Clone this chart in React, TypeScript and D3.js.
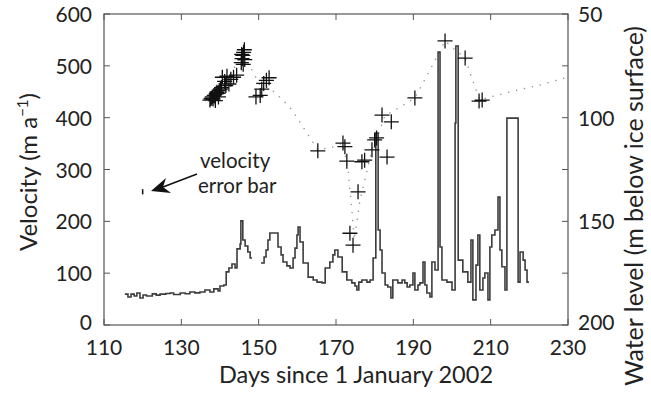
import React from "react";
import * as d3 from "d3";

// ---- Data ----
const xTicks = [110, 130, 150, 170, 190, 210, 230];
const velTicks = [0, 100, 200, 300, 400, 500, 600];
const wlTicks = [50, 75, 100, 125, 150, 175, 200];
const wlLabels = [50, 100, 150, 200];

// Water level (m below ice surface), stair series, two segments
const wlDays1 = [115.4, 116.2, 117.0, 117.8, 118.5, 119.3, 120.1, 121.0, 122.5, 123.5, 124.5, 126.0, 127.1, 128.0, 129.7, 131.0, 132.2, 133.5, 134.8, 136.1, 137.4, 138.4, 139.5, 140.0, 141.0, 141.6, 142.3, 143.1, 143.9, 144.4, 145.2, 145.4, 145.9, 146.5, 147.2, 147.8, 148.3];
const wlDepth1 = [185.1, 186.5, 185.1, 186.0, 184.6, 187.0, 185.5, 186.0, 185.0, 185.6, 185.1, 184.8, 184.6, 185.3, 184.6, 184.9, 184.1, 184.5, 184.1, 183.1, 184.1, 182.6, 183.6, 181.2, 180.7, 174.4, 172.5, 170.6, 172.5, 163.3, 160.9, 149.8, 159.0, 161.9, 164.8, 167.7, 167.7];

const wlDays2 = [150.6, 151.4, 151.9, 152.4, 152.9, 155.0, 155.8, 156.3, 157.3, 158.1, 158.9, 159.4, 159.9, 160.2, 160.7, 161.5, 162.8, 164.1, 165.1, 166.4, 167.2, 168.4, 169.2, 169.7, 170.5, 171.6, 172.8, 174.1, 174.9, 175.4, 175.9, 176.7, 178.0, 178.8, 179.6, 180.3, 180.9, 181.4, 181.9, 182.7, 183.4, 184.2, 184.7, 186.0, 187.1, 187.8, 188.4, 189.1, 189.9, 190.4, 191.2, 191.7, 192.5, 193.0, 193.5, 194.3, 194.8, 195.6, 196.4, 196.9, 197.4, 198.7, 200.0, 200.8, 201.0, 201.6, 202.8, 204.1, 204.9, 205.4, 206.2, 206.7, 207.2, 208.0, 208.5, 209.3, 209.8, 210.3, 211.1, 211.9, 212.4, 212.9, 213.7, 214.2, 217.1, 217.6, 218.4, 218.9, 219.4, 219.9];
const wlDepth2 = [170.1, 167.2, 163.8, 159.0, 155.6, 162.4, 166.2, 169.6, 171.5, 172.5, 167.7, 162.9, 156.6, 152.7, 160.0, 170.1, 176.9, 178.3, 179.3, 179.7, 172.5, 169.6, 166.2, 163.8, 167.2, 174.4, 178.3, 179.7, 181.2, 183.1, 179.3, 178.3, 179.3, 178.3, 167.7, 107.4, 154.2, 163.8, 174.9, 180.7, 181.7, 187.0, 178.3, 179.7, 178.3, 179.7, 181.7, 180.7, 174.9, 183.1, 180.7, 179.7, 169.6, 180.7, 184.6, 186.5, 169.6, 173.5, 68.3, 162.4, 178.3, 179.3, 183.1, 102.6, 65.4, 168.7, 174.4, 179.3, 159.0, 187.9, 171.1, 156.6, 183.1, 177.3, 174.9, 187.9, 162.4, 156.6, 154.2, 138.3, 163.8, 171.9, 183.1, 100.2, 179.3, 164.8, 168.7, 173.5, 179.3, 179.3];

// Velocity measurements (crosses)
const velDays = [137.4, 137.7, 138.0, 138.2, 138.5, 138.7, 139.0, 139.2, 139.5, 139.8, 140.1, 140.4, 138.8, 139.6,
  140.6, 141.2, 141.8, 142.3, 142.8, 143.5, 144.3, 141.5,
  145.5, 145.7, 145.9, 146.1, 146.3, 146.0, 146.4, 145.6,
  149.3, 150.4, 150.8, 151.3, 152.0, 152.7,
  165.3, 171.8, 172.3, 172.8, 173.6, 174.4, 175.7, 176.7, 177.4, 179.3, 180.0, 180.5, 181.9, 183.2, 184.3, 190.4, 198.2, 203.4, 207.0, 207.8];
const velValues = [434, 437, 440, 436, 443, 440, 446, 449, 447, 452, 455, 458, 433, 440,
  478, 470, 480, 465, 474, 478, 482, 462,
  506, 514, 520, 526, 531, 503, 512, 522,
  440, 443, 455, 466, 472, 477,
  336, 351, 344, 316, 177, 154, 257, 315, 318, 338, 357, 361, 405, 324, 392, 438, 548, 515, 432, 434];

// Dotted interpolated velocity
const dotDays = [140.5, 145.7, 147.2, 150.3, 152.9, 156.3, 158.6, 162.0, 165.3, 169.0, 171.8, 173.1, 174.1, 174.7, 176.2, 179.3, 180.6, 182.7, 184.5, 190.4, 194.3, 198.2, 200.0, 203.4, 205.2, 207.2, 209.8, 216.8, 222.8, 229.7];
const dotVel = [457, 521, 507, 463, 457, 434, 415, 376, 338, 343, 351, 299, 222, 164, 241, 338, 361, 405, 411, 438, 492, 548, 536, 515, 475, 434, 440, 453, 463, 478];

// Error bar
const errDay = 120;
const errLow = 252;
const errHigh = 262;

const W = 651, H = 404;
const FONT = "Lato, 'Open Sans', sans-serif";

export default function App() {
  const x = d3.scaleLinear().domain([110, 230]).range([104, 568]);
  const yL = d3.scaleLinear().domain([0, 600]).range([325, 14]);
  const yR = d3.scaleLinear().domain([50, 200]).range([14, 325]);
  const [x0, x1] = x.range();
  const y0 = yL(0), y1 = yL(600);

  const stair = d3.line<[number, number]>().x(d => x(d[0])).y(d => yR(d[1])).curve(d3.curveStepAfter);
  const seg1 = wlDays1.map((d, i) => [d, wlDepth1[i]] as [number, number]);
  const seg2 = wlDays2.map((d, i) => [d, wlDepth2[i]] as [number, number]);
  const dotLine = d3.line<number>().x((d, i) => x(dotDays[i])).y((d, i) => yL(dotVel[i]));

  const c = 7.5;
  const crosses = velDays.map((d, i) => {
    const cx = x(d), cy = yL(velValues[i]);
    return `M${cx - c},${cy}h${2 * c}M${cx},${cy - c}v${2 * c}`;
  }).join("");

  const tl = 6;
  const textColor = "#222";
  const axisColor = "#555";

  return (
    <svg width={W} height={H} style={{ position: "absolute", left: 0, top: 0, background: "#fff" }} fontFamily={FONT}>
      {/* dotted interpolation */}
      <path d={dotLine(dotDays) || ""} fill="none" stroke="#999" strokeWidth={1.5} strokeDasharray="0.1 8" strokeLinecap="round" />
      {/* water level stairs */}
      <path d={stair(seg1) || ""} fill="none" stroke="#3c3c3c" strokeWidth={1.6} />
      <path d={stair(seg2) || ""} fill="none" stroke="#3c3c3c" strokeWidth={1.6} />
      {/* crosses */}
      <path d={crosses} fill="none" stroke="#111" strokeWidth={1.3} />
      {/* error bar */}
      <line x1={x(errDay)} x2={x(errDay)} y1={yL(errLow)} y2={yL(errHigh)} stroke="#111" strokeWidth={1.5} />
      {/* annotation arrow */}
      <line x1={197} y1={174} x2={163} y2={187} stroke="#111" strokeWidth={1.5} />
      <path d="M151,191 L166,178 L163,187 L171,193 Z" fill="#111" />
      <text x={200} y={168} fontSize={20.5} fill={textColor}>velocity</text>
      <text x={198} y={193} fontSize={20.5} fill={textColor}>error bar</text>

      {/* frame */}
      <rect x={x0} y={y1} width={x1 - x0} height={y0 - y1} fill="none" stroke={axisColor} strokeWidth={1.2} />
      {xTicks.map(t => (
        <g key={"x" + t}>
          <line x1={x(t)} x2={x(t)} y1={y0} y2={y0 - tl} stroke={axisColor} />
          <line x1={x(t)} x2={x(t)} y1={y1} y2={y1 + tl} stroke={axisColor} />
          <text x={x(t)} y={355} fontSize={21} textAnchor="middle" fill={textColor}>{t}</text>
        </g>
      ))}
      {velTicks.map(t => (
        <g key={"l" + t}>
          <line x1={x0} x2={x0 + tl} y1={yL(t)} y2={yL(t)} stroke={axisColor} />
          <text x={92} y={yL(t) + (t === 0 ? 5 : 8)} fontSize={21} textAnchor="end" fill={textColor}>{t}</text>
        </g>
      ))}
      {wlTicks.map(t => (
        <g key={"r" + t}>
          <line x1={x1} x2={x1 - tl} y1={yR(t)} y2={yR(t)} stroke={axisColor} />
          {wlLabels.includes(t) && (
            <text x={578} y={yR(t) + (t === 200 ? 5 : 8)} fontSize={21} textAnchor="start" fill={textColor}>{t}</text>
          )}
        </g>
      ))}
      {/* axis titles */}
      <text x={356} y={383} fontSize={23.5} textAnchor="middle" fill={textColor}>Days since 1 January 2002</text>
      <text transform={`translate(37,172) rotate(-90)`} fontSize={24} textAnchor="middle" fill={textColor}>
        Velocity (m a<tspan dy={-9} fontSize={15}>−1</tspan><tspan dy={9}>)</tspan>
      </text>
      <text transform={`translate(643,206) rotate(-90)`} fontSize={25} textAnchor="middle" fill={textColor}>Water level (m below ice surface)</text>
    </svg>
  );
}
